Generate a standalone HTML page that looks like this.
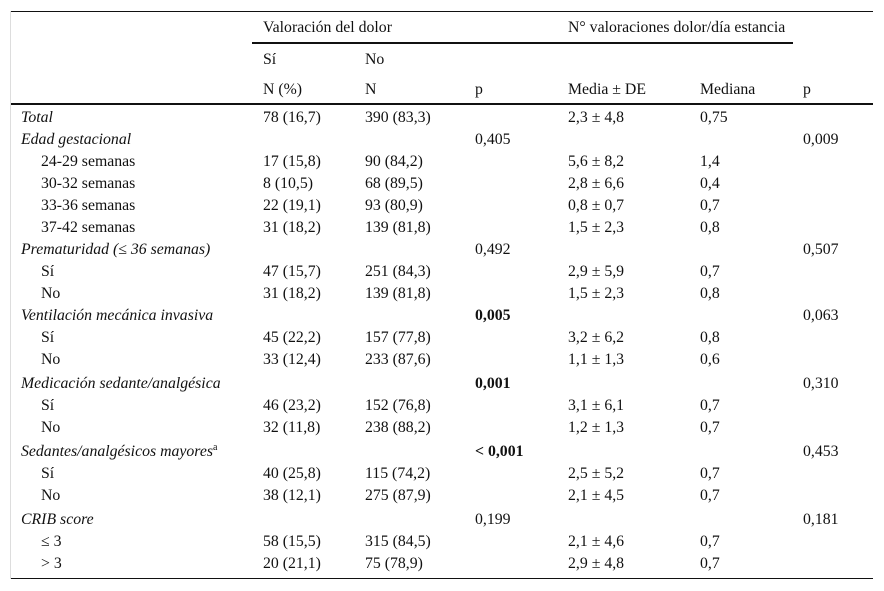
<!DOCTYPE html>
<html><head><meta charset="utf-8"><style>
body{margin:0;background:#fff;width:884px;height:591px;position:relative;overflow:hidden;font-family:"Liberation Serif",serif;font-size:15.8px;color:#111}
.t{position:absolute;white-space:nowrap;line-height:18px}
.i{font-style:italic}.b{font-weight:bold}
.ln{position:absolute;background:#111}
sup{font-size:10px;line-height:0;vertical-align:6px;font-style:normal}
</style></head><body>
<div class="ln" style="left:11px;top:11px;width:862px;height:1px"></div>
<div class="ln" style="left:252px;top:42px;width:541px;height:2px"></div>
<div class="ln" style="left:11px;top:103px;width:862px;height:2px"></div>
<div class="ln" style="left:11px;top:578px;width:862px;height:1px"></div>
<div class="ln" style="left:10px;top:11px;width:1px;height:568px;background:#ddd"></div>
<div class="t" style="left:263px;top:19px">Valoración del dolor</div>
<div class="t" style="left:568px;top:19px">N° valoraciones dolor/día estancia</div>
<div class="t" style="left:263px;top:51px">Sí</div>
<div class="t" style="left:365px;top:51px">No</div>
<div class="t" style="left:263px;top:81px">N (%)</div>
<div class="t" style="left:365px;top:81px">N</div>
<div class="t" style="left:475px;top:81px">p</div>
<div class="t" style="left:568px;top:81px">Media ± DE</div>
<div class="t" style="left:700px;top:81px">Mediana</div>
<div class="t" style="left:803px;top:81px">p</div>
<div id="rows"></div>
<script>
const rows=[
[117,'Total',0,'i','78 (16,7)','390 (83,3)','','2,3 ± 4,8','0,75',''],
[139,'Edad gestacional',0,'i','','','0,405','','','0,009'],
[161,'24-29 semanas',1,'','17 (15,8)','90 (84,2)','','5,6 ± 8,2','1,4',''],
[183,'30-32 semanas',1,'','8 (10,5)','68 (89,5)','','2,8 ± 6,6','0,4',''],
[205,'33-36 semanas',1,'','22 (19,1)','93 (80,9)','','0,8 ± 0,7','0,7',''],
[227,'37-42 semanas',1,'','31 (18,2)','139 (81,8)','','1,5 ± 2,3','0,8',''],
[249,'Prematuridad (≤ 36 semanas)',0,'i','','','0,492','','','0,507'],
[271,'Sí',1,'','47 (15,7)','251 (84,3)','','2,9 ± 5,9','0,7',''],
[293,'No',1,'','31 (18,2)','139 (81,8)','','1,5 ± 2,3','0,8',''],
[315,'Ventilación mecánica invasiva',0,'i','','','<b>0,005</b>','','','0,063'],
[337,'Sí',1,'','45 (22,2)','157 (77,8)','','3,2 ± 6,2','0,8',''],
[359,'No',1,'','33 (12,4)','233 (87,6)','','1,1 ± 1,3','0,6',''],
[383,'Medicación sedante/analgésica',0,'i','','','<b>0,001</b>','','','0,310'],
[405,'Sí',1,'','46 (23,2)','152 (76,8)','','3,1 ± 6,1','0,7',''],
[427,'No',1,'','32 (11,8)','238 (88,2)','','1,2 ± 1,3','0,7',''],
[451,'Sedantes/analgésicos mayores<sup>a</sup>',0,'i','','','<b>&lt; 0,001</b>','','','0,453'],
[473,'Sí',1,'','40 (25,8)','115 (74,2)','','2,5 ± 5,2','0,7',''],
[495,'No',1,'','38 (12,1)','275 (87,9)','','2,1 ± 4,5','0,7',''],
[519,'CRIB score',0,'i','','','0,199','','','0,181'],
[541,'≤ 3',1,'','58 (15,5)','315 (84,5)','','2,1 ± 4,6','0,7',''],
[563,'&gt; 3',1,'','20 (21,1)','75 (78,9)','','2,9 ± 4,8','0,7','']];
const xs=[263,365,475,568,700,803];
const box=document.getElementById('rows');
rows.forEach((r)=>{
  const d=document.createElement('div');
  d.className='t '+r[3];
  d.style.left=(r[2]?41:21)+'px';d.style.top=(r[0]-8)+'px';
  d.innerHTML=r[1];
  
  
  box.appendChild(d);
  for(let c=0;c<6;c++){
    if(!r[4+c])continue;
    const e=document.createElement('div');
    e.className='t';
    e.style.left=xs[c]+'px';e.style.top=(r[0]-8)+'px';
    e.innerHTML=r[4+c];
    
    
    box.appendChild(e);
  }
});
</script>
</body></html>
